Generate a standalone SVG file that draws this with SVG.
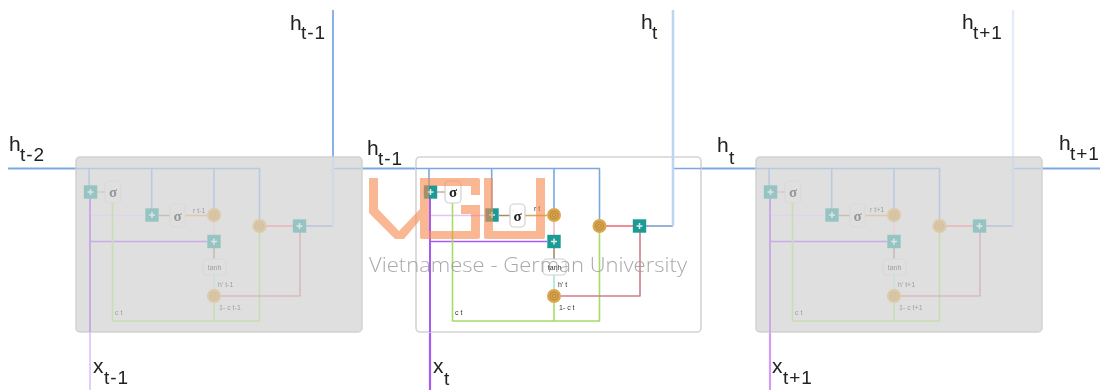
<svg xmlns="http://www.w3.org/2000/svg" width="1108" height="390" viewBox="0 0 1108 390">
<style>
.lab{font-family:"Liberation Sans",Arial,sans-serif;font-size:21px;fill:#222}
.sub{font-size:19px;letter-spacing:1px}
.tiny{font-family:"Liberation Sans",Arial,sans-serif;font-size:7px;fill:#333}
.sig{font-family:"Liberation Serif","Times New Roman",serif;font-size:15px;font-weight:bold;fill:#222;text-anchor:middle}
.w{fill:none;stroke-linejoin:round}
.box{fill:var(--bf,#fff);stroke:#d0d0d0;stroke-width:1.2}
.plus{fill:#1f9a96}
.pl{stroke:#d8efed;stroke-width:1.5}
.cir{fill:#d9a64e}
.cin{fill:none;stroke:#b98a3a;stroke-width:1}
.ext{fill:none}
.wm{fill:#f58a50;opacity:.62}
.faded{--bf:#dfdfdf}
</style>
<defs>
<filter id="soft" x="0" y="0" width="100%" height="100%"><feGaussianBlur stdDeviation="0.6"/></filter>
<g id="wires">
<path class="w" stroke="#7aa9e0" stroke-width="1.6" d="M416 168.5H600M673 168.5H701"/>
<path class="w" stroke="#7aa9e0" stroke-width="1.6" d="M429 168.5V192M491.7 168.5V215M554 168.5V208M599.5 168.5V219"/>
<path class="w" stroke="#b9a99a" stroke-width="1.4" d="M437 192H445"/>
<path class="w" stroke="#e2c4fb" stroke-width="1.6" d="M430 215.5H485"/>
<path class="w" stroke="#a65cf0" stroke-width="1.6" d="M430 241.5H547"/>
<path class="w" stroke="#a65cf0" stroke-width="2" d="M430 192V332"/>
<path class="w" stroke="#a5dc68" stroke-width="1.6" d="M452.5 203V321H599.5V233M554 303V321"/>
<path class="w" stroke="#a98a68" stroke-width="1.6" d="M499 215.5H510M554 248V259"/>
<path class="w" stroke="#d9a860" stroke-width="1.6" d="M525 215.5H547"/>
<path class="w" stroke="#f2bcc6" stroke-width="1.6" d="M554 222V235"/>
<path class="w" stroke="#a8e4da" stroke-width="1.6" d="M554 275V289"/>
<path class="w" stroke="#d07f86" stroke-width="1.6" d="M561 296H640V232"/>
<path class="w" stroke="#f58a94" stroke-width="2" d="M606 226H633"/>
<path class="w" stroke="#7d9fcb" stroke-width="1.6" d="M646 226H673"/>
<path class="w" stroke="#bcd5f2" stroke-width="2.6" d="M673 226V157"/>
</g>
<g id="plus"><rect class="plus" x="-6.7" y="-6.7" width="13.4" height="13.4"/><path class="pl" d="M-3 0H3M0-3V3"/></g>
<g id="dot"><circle class="cir" r="7"/><circle class="cin" r="4"/><circle class="cin" r="1.8"/></g>
<g id="nodes">
<use href="#plus" x="430.5" y="192"/>
<use href="#plus" x="492" y="215"/>
<use href="#plus" x="554" y="241.5"/>
<use href="#plus" x="639.5" y="226"/>
<rect class="box" x="445" y="181" width="16" height="22" rx="4"/>
<rect class="box" x="510" y="204" width="15" height="23" rx="4"/>
<rect class="box" x="543" y="259" width="23" height="16" rx="4"/>
<use href="#dot" x="554" y="215"/>
<use href="#dot" x="554" y="296"/>
<use href="#dot" x="599.5" y="226"/>
<text class="sig" x="453" y="197">σ</text>
<text class="sig" x="517.5" y="221">σ</text>
<text class="tiny" x="554.5" y="270" text-anchor="middle">tanh</text>
</g>
</defs>
<g filter="url(#soft)">
<g id="connectors">
<path class="ext" stroke="#7aa9e0" stroke-width="1.8" d="M8 168.5H76M362 168.5H416M701 168.5H756M1042 168.5H1100"/>
<path class="ext" stroke="#85b3ea" stroke-width="2" d="M333 10V157"/>
<path class="ext" stroke="#bcd5f2" stroke-width="2.6" d="M673 10V157"/>
<path class="ext" stroke="#e3edf9" stroke-width="2.4" d="M1013 10V157"/>
<path class="ext" stroke="#e4ccfb" stroke-width="2" d="M90 332V390"/>
<path class="ext" stroke="#a65cf0" stroke-width="2.2" d="M430 332V390"/>
<path class="ext" stroke="#d29cf8" stroke-width="2.2" d="M770 332V390"/>
</g>
<g id="cell-t-1">
<rect x="76" y="157" width="286" height="175" rx="4" fill="#dfdfdf" stroke="#d2d2d2" stroke-width="1.5"/>
<g class="faded" transform="translate(-340 0)" opacity=".38"><use href="#wires"/><use href="#nodes"/>
<text class="tiny" x="533" y="213">r t-1</text><text class="tiny" x="558" y="287">h' t-1</text><text class="tiny" x="559" y="310">1- c t-1</text><text class="tiny" x="455" y="315">c t</text></g>
</g>
<g id="cell-t">
<rect x="416" y="157" width="285" height="175" rx="4" fill="#fff" stroke="#d4d4d4" stroke-width="1.6"/>
<use href="#wires"/><use href="#nodes"/>
<text class="tiny" x="534" y="211">r t</text><text class="tiny" x="558" y="287">h' t</text><text class="tiny" x="559" y="310">1- c t</text><text class="tiny" x="455" y="315">c t</text>
</g>
<g id="cell-t1">
<rect x="756" y="157" width="286" height="175" rx="4" fill="#dfdfdf" stroke="#d2d2d2" stroke-width="1.5"/>
<g class="faded" transform="translate(340 0)" opacity=".38"><use href="#wires"/><use href="#nodes"/>
<text class="tiny" x="530" y="212">r t+1</text><text class="tiny" x="558" y="287">h' t+1</text><text class="tiny" x="559" y="310">1- c t+1</text><text class="tiny" x="455" y="315">c t</text></g>
</g>
<g id="labels">
<text class="lab" x="290" y="30">h<tspan class="sub" x="301" y="39">t-1</tspan></text>
<text class="lab" x="9" y="151">h<tspan class="sub" x="20" y="161">t-2</tspan></text>
<text class="lab" x="367" y="155">h<tspan class="sub" x="378" y="165">t-1</tspan></text>
<text class="lab" x="641" y="29">h<tspan class="sub" x="652" y="39">t</tspan></text>
<text class="lab" x="717" y="152">h<tspan class="sub" x="729" y="164">t</tspan></text>
<text class="lab" x="962" y="29">h<tspan class="sub" x="973" y="39">t+1</tspan></text>
<text class="lab" x="1059" y="150">h<tspan class="sub" x="1070" y="160">t+1</tspan></text>
<text class="lab" x="93" y="373">x<tspan class="sub" x="104" y="384">t-1</tspan></text>
<text class="lab" x="433" y="373">x<tspan class="sub" x="444" y="385">t</tspan></text>
<text class="lab" x="772" y="373">x<tspan class="sub" x="783" y="384">t+1</tspan></text>
</g>
<g id="watermark">
<path class="wm" d="M369 178H378V209L399 231L420 209V178H478Q480 178 480 180V195H471V186H429V231H471V214H461V205H480V237Q480 239 478 239H422Q420 239 420 237V220L404 239H395L369 213Z"/>
<path class="wm" d="M484 178H493V231H536V178H545V237Q545 239 543 239H486Q484 239 484 237Z"/>
<text x="369" y="272" textLength="318" lengthAdjust="spacingAndGlyphs" font-family="'Open Sans',Lato,sans-serif" font-size="21" font-weight="300" fill="#9a9a9a" opacity=".85">Vietnamese - German University</text>
</g>
</g>
</svg>
